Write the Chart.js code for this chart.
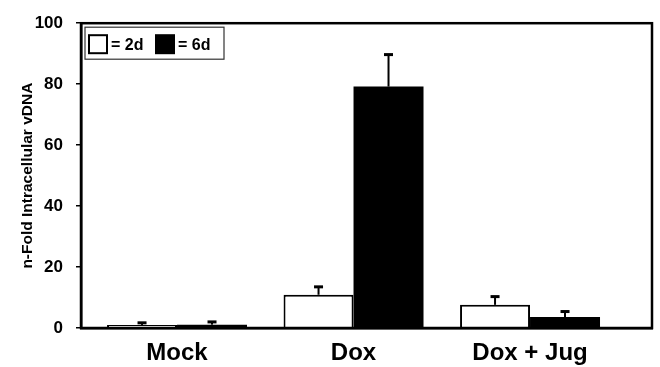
<!DOCTYPE html>
<html lang="en">
<head>
    <meta charset="UTF-8">
    <title>vDNA chart</title>
    <style>
        body { margin: 0; padding: 0; background: #ffffff; }
        #wrap { width: 660px; height: 367px; }
    </style>
</head>
<body>
    <div id="wrap"><canvas id="vdnaChart" width="660" height="367"></canvas></div>
    <script src="https://cdn.jsdelivr.net/npm/chart.js@4"></script>
    <script>
        // data
        const categories = ["Mock", "Dox", "Dox + Jug"];
        const seriesLabels = ["2d", "6d"];
        const values2d = [1.0, 10.9, 7.6];
        const values6d = [1.1, 79.2, 3.6];
        const errors2d = [0.7, 2.6, 2.7];
        const errors6d = [0.9, 10.5, 1.8];
        const yTicks = [0, 20, 40, 60, 80, 100];

        const FONT = "'Liberation Sans', Arial, sans-serif";

        // categories sit at x = 1, 2, 3 on a linear axis
        const toPoints = arr => arr.map((v, i) => ({ x: i + 1, y: v }));

        // draws upward-only error bars on top of the bars
        const errorBars = {
            id: 'errorBars',
            afterDatasetsDraw(chart) {
                const ctx = chart.ctx;
                const yScale = chart.scales.y;
                const errs = [errors2d, errors6d];
                ctx.save();
                ctx.strokeStyle = '#000';
                chart.data.datasets.forEach((ds, di) => {
                    const meta = chart.getDatasetMeta(di);
                    meta.data.forEach((bar, i) => {
                        const top = yScale.getPixelForValue(ds.data[i].y + errs[di][i]);
                        ctx.lineWidth = 2;
                        ctx.beginPath();
                        ctx.moveTo(bar.x, bar.y);
                        ctx.lineTo(bar.x, top);
                        ctx.stroke();
                        ctx.lineWidth = 3;
                        ctx.beginPath();
                        ctx.moveTo(bar.x - 4.5, top);
                        ctx.lineTo(bar.x + 4.5, top);
                        ctx.stroke();
                    });
                });
                ctx.restore();
            }
        };

        // box round the plot area + boxed legend in the top-left corner
        const frameAndLegend = {
            id: 'frameAndLegend',
            afterDraw(chart) {
                const ctx = chart.ctx;
                const a = chart.chartArea;
                ctx.save();
                ctx.strokeStyle = '#000';
                ctx.lineWidth = 2.5;
                ctx.strokeRect(a.left, a.top, a.right - a.left, a.bottom - a.top);

                // legend
                const lx = a.left + 4, ly = a.top + 4;
                ctx.lineWidth = 1.2;
                ctx.strokeStyle = '#333';
                ctx.strokeRect(lx, ly, 139, 32);
                ctx.font = 'bold 16px ' + FONT;
                ctx.textBaseline = 'middle';
                ctx.textAlign = 'left';
                const items = [
                    { x: lx + 4, label: seriesLabels[0], ds: chart.data.datasets[0] },
                    { x: lx + 71, label: seriesLabels[1], ds: chart.data.datasets[1] }
                ];
                items.forEach(it => {
                    ctx.fillStyle = it.ds.backgroundColor;
                    ctx.fillRect(it.x, ly + 8, 18, 18);
                    ctx.lineWidth = 2;
                    ctx.strokeStyle = '#000';
                    ctx.strokeRect(it.x, ly + 8, 18, 18);
                    ctx.fillStyle = '#000';
                    ctx.fillText('= ' + it.label, it.x + 22, ly + 18);
                });
                ctx.restore();
            }
        };

        const ctx = document.getElementById('vdnaChart').getContext('2d');
        new Chart(ctx, {
            type: 'bar',
            data: {
                datasets: [{
                    label: seriesLabels[0],
                    data: toPoints(values2d),
                    backgroundColor: '#ffffff',
                    borderColor: '#000000',
                    borderWidth: 2
                }, {
                    label: seriesLabels[1],
                    data: toPoints(values6d),
                    backgroundColor: '#000000',
                    borderColor: '#000000',
                    borderWidth: 0
                }]
            },
            plugins: [errorBars, frameAndLegend],
            options: {
                responsive: false,
                animation: false,
                categoryPercentage: 0.793,
                barPercentage: 1,
                layout: { padding: { top: 15, right: 8, left: 0, bottom: 0 } },
                plugins: {
                    legend: { display: false },
                    tooltip: { enabled: false }
                },
                scales: {
                    x: {
                        type: 'linear',
                        offset: false,
                        min: 0.456,
                        max: 3.691,
                        afterFit(scale) { scale.height = 39; },
                        afterBuildTicks(scale) {
                            scale.ticks = categories.map((c, i) => ({ value: i + 1 }));
                        },
                        ticks: {
                            autoSkip: false,
                            maxRotation: 0,
                            padding: 11,
                            color: '#000',
                            font: { family: FONT, size: 24, weight: 'bold' },
                            callback: v => categories[v - 1]
                        },
                        grid: { display: false, drawTicks: false },
                        border: { display: true, color: '#000', width: 2.5 }
                    },
                    y: {
                        min: 0,
                        max: 100,
                        afterFit(scale) { scale.width = 81; },
                        afterBuildTicks(scale) {
                            scale.ticks = yTicks.map(v => ({ value: v }));
                        },
                        ticks: {
                            padding: 13,
                            color: '#000',
                            font: { family: FONT, size: 17, weight: 'bold' }
                        },
                        grid: {
                            drawOnChartArea: false,
                            drawTicks: true,
                            tickLength: 5,
                            color: '#000',
                            lineWidth: 1.5
                        },
                        border: { display: true, color: '#000', width: 2.5 },
                        title: {
                            display: true,
                            text: 'n-Fold Intracellular vDNA',
                            color: '#000',
                            padding: { top: 18, bottom: 0 },
                            font: { family: FONT, size: 15.5, weight: 'bold' }
                        }
                    }
                }
            }
        });
    </script>
</body>
</html>
